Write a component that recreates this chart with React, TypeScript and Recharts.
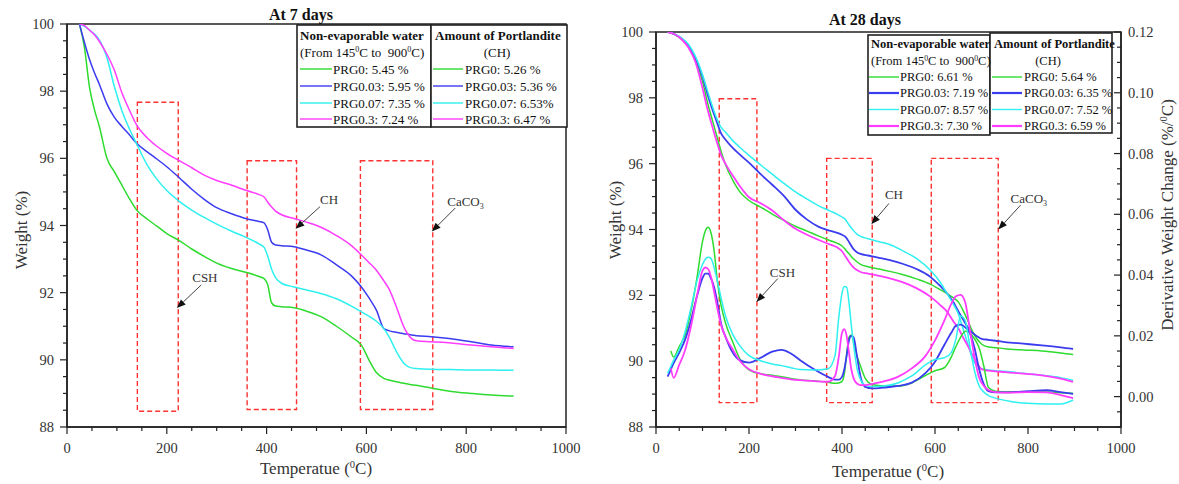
import React from 'react';
import { LineChart, Line, XAxis, YAxis, ReferenceArea, ReferenceLine } from 'recharts';

const FONT = '"Liberation Serif", "Times New Roman", serif';
const AXIS = '#222';
const TXT = '#333';
const GREEN = '#2edb2e';
const BLUE = '#3b3bf0';
const CYAN = '#2ef0f0';
const MAGENTA = '#ff3cff';
const BOX_RED = '#ff3030';

// ---- 7 days, TGA weight (%) ----
const temp7 = [25, 35, 45, 55, 65, 80, 95, 110, 125, 140, 160, 180, 200, 225, 250, 275, 300, 330, 360, 385, 395, 402, 410, 418, 430, 455, 480, 510, 540, 570, 590, 605, 620, 635, 645, 660, 675, 690, 700, 730, 770, 810, 850, 895];
const wt7Prg0 = [100, 99.3, 98.13, 97.45, 96.94, 96.0, 95.6, 95.2, 94.8, 94.45, 94.2, 93.98, 93.76, 93.55, 93.3, 93.08, 92.88, 92.72, 92.6, 92.48, 92.42, 92.25, 91.7, 91.6, 91.58, 91.55, 91.45, 91.28, 91.0, 90.68, 90.44, 90.0, 89.62, 89.45, 89.4, 89.35, 89.3, 89.26, 89.24, 89.16, 89.06, 89.0, 88.95, 88.92];
const wt7Prg003 = [100, 99.45, 98.95, 98.55, 98.2, 97.62, 97.22, 96.95, 96.7, 96.44, 96.2, 95.98, 95.75, 95.42, 95.08, 94.78, 94.53, 94.35, 94.2, 94.12, 94.08, 93.88, 93.5, 93.42, 93.4, 93.37, 93.27, 93.12, 92.83, 92.5, 92.17, 91.85, 91.48, 90.93, 90.87, 90.82, 90.78, 90.74, 90.72, 90.69, 90.63, 90.54, 90.44, 90.39];
const wt7Prg007 = [100, 99.93, 99.82, 99.7, 99.52, 99.0, 98.13, 97.42, 96.88, 96.42, 95.82, 95.38, 95.04, 94.72, 94.46, 94.24, 94.04, 93.83, 93.64, 93.45, 93.35, 93.1, 92.7, 92.45, 92.28, 92.17, 92.08, 91.97, 91.82, 91.6, 91.43, 91.3, 91.15, 90.93, 90.7, 90.25, 89.9, 89.76, 89.74, 89.72, 89.71, 89.7, 89.7, 89.69];
const wt7Prg03 = [100, 99.95, 99.82, 99.68, 99.48, 99.1, 98.62, 97.95, 97.44, 96.98, 96.62, 96.36, 96.15, 95.93, 95.72, 95.5, 95.34, 95.2, 95.04, 94.92, 94.85, 94.7, 94.55, 94.43, 94.32, 94.21, 94.1, 93.94, 93.7, 93.4, 93.12, 92.9, 92.67, 92.35, 92.12, 91.58, 90.98, 90.64, 90.57, 90.54, 90.5, 90.44, 90.39, 90.34];

// ---- 28 days, TGA weight (%) ----
const temp28 = [25, 40, 55, 70, 85, 100, 110, 120, 130, 140, 150, 165, 180, 200, 225, 250, 275, 300, 325, 350, 375, 390, 400, 408, 416, 424, 432, 440, 456, 480, 505, 530, 560, 590, 610, 625, 640, 650, 660, 670, 680, 690, 700, 715, 730, 750, 790, 830, 870, 897];
const wt28Prg0 = [100, 99.92, 99.78, 99.55, 99.15, 98.5, 97.9, 97.38, 96.88, 96.37, 95.95, 95.5, 95.15, 94.88, 94.68, 94.47, 94.28, 94.1, 93.95, 93.8, 93.66, 93.58, 93.5, 93.38, 93.25, 93.12, 93.02, 92.94, 92.87, 92.8, 92.72, 92.63, 92.5, 92.34, 92.18, 92.06, 91.92, 91.8, 91.55, 91.25, 90.92, 90.68, 90.52, 90.43, 90.41, 90.38, 90.34, 90.31, 90.25, 90.2];
const wt28Prg003 = [100, 99.93, 99.8, 99.58, 99.2, 98.65, 98.15, 97.7, 97.3, 96.92, 96.72, 96.48, 96.28, 96.03, 95.68, 95.36, 95.02, 94.6, 94.3, 94.08, 93.96, 93.9, 93.84, 93.77, 93.6, 93.42, 93.31, 93.26, 93.21, 93.14, 93.06, 92.96, 92.8, 92.56, 92.3, 92.08, 91.78, 91.52, 91.28, 91.04, 90.87, 90.76, 90.68, 90.65, 90.62, 90.58, 90.53, 90.48, 90.42, 90.37];
const wt28Prg007 = [100, 99.94, 99.82, 99.62, 99.25, 98.7, 98.25, 97.8, 97.4, 97.1, 96.95, 96.7, 96.5, 96.25, 95.96, 95.68, 95.4, 95.14, 94.92, 94.72, 94.56, 94.46, 94.38, 94.29, 94.12, 93.98, 93.86, 93.79, 93.72, 93.63, 93.53, 93.36, 93.12, 92.76, 92.42, 92.08, 91.72, 91.44, 91.0, 90.55, 90.1, 89.85, 89.77, 89.73, 89.71, 89.69, 89.63, 89.57, 89.5, 89.42];
const wt28Prg03 = [100, 99.93, 99.78, 99.52, 99.08, 98.3, 97.7, 97.18, 96.7, 96.26, 95.98, 95.64, 95.32, 94.98, 94.8, 94.58, 94.28, 94.02, 93.84, 93.68, 93.54, 93.45, 93.34, 93.17, 93.0, 92.86, 92.77, 92.71, 92.66, 92.59, 92.51, 92.4, 92.22, 91.96, 91.72, 91.52, 91.2, 91.0, 90.73, 90.48, 90.2, 89.95, 89.76, 89.71, 89.69, 89.67, 89.62, 89.57, 89.47, 89.37];

// ---- 28 days, derivative weight change (%/°C) ----
const tempDtg = [25, 32, 38, 50, 62, 75, 88, 100, 106, 112, 118, 125, 132, 140, 150, 165, 180, 200, 225, 250, 270, 290, 310, 340, 370, 385, 393, 400, 405, 410, 415, 420, 425, 432, 440, 450, 465, 490, 520, 550, 580, 600, 620, 635, 645, 655, 665, 675, 685, 695, 705, 715, 730, 760, 800, 840, 870, 897];
const dtgPrg0 = [null, 0.015, 0.013, 0.0165, 0.02, 0.028, 0.039, 0.051, 0.0545, 0.0557, 0.054, 0.048, 0.038, 0.03, 0.024, 0.018, 0.0125, 0.0088, 0.0075, 0.007, 0.0065, 0.006, 0.0055, 0.0052, 0.0047, 0.0044, 0.0045, 0.005, 0.0075, 0.014, 0.0195, 0.0203, 0.018, 0.0135, 0.01, 0.006, 0.004, 0.0035, 0.0035, 0.0045, 0.007, 0.0085, 0.0095, 0.013, 0.0165, 0.0195, 0.0215, 0.021, 0.019, 0.016, 0.01, 0.003, 0.0018, 0.0016, 0.0016, 0.0015, 0.0013, 0.0011];
const dtgPrg003 = [0.0066, 0.009, 0.011, 0.0145, 0.0185, 0.025, 0.033, 0.039, 0.0405, 0.0405, 0.039, 0.036, 0.031, 0.024, 0.0195, 0.0145, 0.012, 0.0112, 0.0128, 0.0148, 0.0154, 0.0142, 0.012, 0.009, 0.0065, 0.0056, 0.0056, 0.0065, 0.009, 0.0135, 0.0185, 0.02, 0.0195, 0.0135, 0.0065, 0.0032, 0.0027, 0.003, 0.0035, 0.0046, 0.0078, 0.0115, 0.017, 0.021, 0.0233, 0.0237, 0.0228, 0.0209, 0.016, 0.009, 0.004, 0.0018, 0.0014, 0.0014, 0.0018, 0.0021, 0.0015, 0.0009];
const dtgPrg007 = [0.0077, 0.01, 0.012, 0.0155, 0.021, 0.029, 0.038, 0.0435, 0.0452, 0.0459, 0.0455, 0.0425, 0.038, 0.0325, 0.0263, 0.0205, 0.0168, 0.0135, 0.0118, 0.0107, 0.0102, 0.0095, 0.0089, 0.0088, 0.0092, 0.0135, 0.026, 0.034, 0.0362, 0.036, 0.031, 0.0235, 0.017, 0.0095, 0.0055, 0.0037, 0.0033, 0.0035, 0.0045, 0.0068, 0.0105, 0.0122, 0.0128, 0.0145, 0.019, 0.0265, 0.025, 0.0165, 0.0085, 0.0035, 0.0015, 0.0003, -0.0005, -0.0015, -0.0022, -0.0024, -0.0024, -0.0011];
const dtgPrg03 = [null, 0.0093, 0.0062, 0.0105, 0.015, 0.023, 0.033, 0.0415, 0.0425, 0.042, 0.0395, 0.0345, 0.029, 0.0235, 0.0195, 0.0155, 0.0118, 0.009, 0.0075, 0.0067, 0.0062, 0.0057, 0.0054, 0.0051, 0.0049, 0.0068, 0.013, 0.021, 0.0222, 0.02, 0.0145, 0.009, 0.006, 0.0043, 0.0038, 0.0038, 0.0042, 0.005, 0.0065, 0.0093, 0.0135, 0.0185, 0.025, 0.0305, 0.033, 0.0335, 0.031, 0.022, 0.013, 0.0062, 0.0035, 0.0022, 0.0015, 0.0013, 0.0015, 0.0014, 0.0005, -0.0005];

// ---- legend texts ----
const mixes = ['PRG0', 'PRG0.03', 'PRG0.07', 'PRG0.3'];
const mixColors = [GREEN, BLUE, CYAN, MAGENTA];
const water7 = ['5.45 %', '5.95 %', '7.35 %', '7.24 %'];
const ch7 = ['5.26 %', '5.36 %', '6.53%', '6.47 %'];
const water28 = ['6.61 %', '7.19 %', '8.57 %', '7.30 %'];
const ch28 = ['5.64 %', '6.35 %', '7.52 %', '6.59 %'];

// ---- dashed boxes (temperature range, weight range) ----
const boxes7 = [
  [141, 223, 88.47, 97.67],
  [361, 460, 88.52, 95.93],
  [588, 733, 88.52, 95.93],
];
const boxes28 = [
  [136, 217, 88.74, 97.97],
  [367, 465, 88.74, 96.16],
  [592, 736, 88.74, 96.16],
];

// ticks
const xTicks = Array.from({ length: 21 }, (_, i) => i * 50);
const wTicks = Array.from({ length: 25 }, (_, i) => 88 + i * 0.5);
const dTicks = Array.from({ length: 27 }, (_, i) => (i - 2) * 0.005);

const rows7 = temp7.map((t, i) => ({ t, a: wt7Prg0[i], b: wt7Prg003[i], c: wt7Prg007[i], d: wt7Prg03[i] }));
const rows28 = temp28.map((t, i) => ({ t, a: wt28Prg0[i], b: wt28Prg003[i], c: wt28Prg007[i], d: wt28Prg03[i] }));
const rowsDtg = tempDtg.map((t, i) => ({ t, a: dtgPrg0[i], b: dtgPrg003[i], c: dtgPrg007[i], d: dtgPrg03[i] }));

function XTick(p: any) {
  const { x, y, payload } = p;
  const v = payload.value;
  const major = v % 200 === 0;
  return (
    <g>
      <line x1={x} x2={x} y1={y} y2={y + (major ? 7 : 4)} stroke={AXIS} strokeWidth={1.2} />
      {major && (
        <text x={x} y={y + 26} textAnchor="middle" fontSize={14.5} fill={TXT} fontFamily={FONT}>
          {v}
        </text>
      )}
    </g>
  );
}

function WTick(p: any) {
  const { x, y, payload } = p;
  const v = payload.value;
  const major = Math.abs(v % 2) < 1e-6;
  return (
    <g>
      <line x1={x} x2={x - (major ? 7 : 4)} y1={y} y2={y} stroke={AXIS} strokeWidth={1.2} />
      {major && (
        <text x={x - 13} y={y} dy="0.35em" textAnchor="end" fontSize={14.5} fill={TXT} fontFamily={FONT}>
          {v}
        </text>
      )}
    </g>
  );
}

function DTick(p: any) {
  const { x, y, payload } = p;
  const k = Math.round(payload.value / 0.005);
  const major = k % 4 === 0;
  return (
    <g>
      <line x1={x} x2={x - (major ? 7 : 4)} y1={y} y2={y} stroke={AXIS} strokeWidth={1.2} />
      {major && (
        <text x={x + 7} y={y} dy="0.35em" textAnchor="start" fontSize={14.5} fill={TXT} fontFamily={FONT}>
          {(k * 0.005).toFixed(2)}
        </text>
      )}
    </g>
  );
}

// arrow pointing from the label towards the region
function arrow(label: React.ReactNode, dx: number, dy: number) {
  return (p: any) => {
    const { x1, y1, x2, y2 } = p;
    const ang = Math.atan2(y2 - y1, x2 - x1);
    const L = 9;
    const W = 3.5;
    const bx = x2 - L * Math.cos(ang);
    const by = y2 - L * Math.sin(ang);
    const pts = `${x2},${y2} ${bx + W * Math.sin(ang)},${by - W * Math.cos(ang)} ${bx - W * Math.sin(ang)},${by + W * Math.cos(ang)}`;
    return (
      <g>
        <line x1={x1} y1={y1} x2={bx} y2={by} stroke="#444" strokeWidth={1} />
        <polygon points={pts} fill="#111" />
        <text x={x1 + dx} y={y1 + dy} fontSize={13} fill={TXT} fontFamily={FONT}>
          {label}
        </text>
      </g>
    );
  };
}

const caco3 = (
  <>
    CaCO<tspan fontSize={8} dy={3}>3</tspan>
  </>
);

function lines(yId: string, rows: any[] | null, widths: number[]) {
  const keys = ['a', 'b', 'c', 'd'];
  return keys.map((k, i) => (
    <Line
      key={k + yId}
      yAxisId={yId}
      data={rows ?? undefined}
      dataKey={k}
      type="monotone"
      stroke={mixColors[i]}
      strokeWidth={widths[i]}
      dot={false}
      activeDot={false}
      isAnimationActive={false}
    />
  ));
}

function Panel({ left, width, top, data, dtg, boxes, arrows }: any) {
  return (
    <div style={{ position: 'absolute', left, top: 0 }}>
      <LineChart width={width} height={484} margin={{ top, right: dtg ? 0 : 24, bottom: 0, left: 0 }}>
        <XAxis
          type="number"
          dataKey="t"
          domain={[0, 1000]}
          ticks={xTicks}
          interval={0}
          tick={XTick}
          tickLine={false}
          tickSize={0}
          tickMargin={0}
          height={57}
          allowDataOverflow
          axisLine={{ stroke: AXIS, strokeWidth: 1.5 }}
        />
        <YAxis
          yAxisId="w"
          type="number"
          domain={[88, 100]}
          ticks={wTicks}
          interval={0}
          tick={WTick}
          tickLine={false}
          tickSize={0}
          tickMargin={0}
          width={dtg ? 66 : 67}
          allowDataOverflow
          axisLine={{ stroke: AXIS, strokeWidth: 1.5 }}
        />
        {dtg && (
          <YAxis
            yAxisId="d"
            orientation="right"
            type="number"
            domain={[-0.01, 0.12]}
            ticks={dTicks}
            interval={0}
            tick={DTick}
            tickLine={false}
            tickSize={0}
            tickMargin={0}
            width={58}
            allowDataOverflow
            axisLine={{ stroke: AXIS, strokeWidth: 1.5 }}
          />
        )}
        <ReferenceArea yAxisId="w" x1={0} x2={1000} y1={88} y2={100} fill="none" stroke={AXIS} strokeWidth={1.5} />
        {boxes.map((b: number[], i: number) => (
          <ReferenceArea
            key={i}
            yAxisId="w"
            x1={b[0]}
            x2={b[1]}
            y1={b[2]}
            y2={b[3]}
            fill="none"
            stroke={BOX_RED}
            strokeWidth={1.4}
            strokeDasharray="5 3"
          />
        ))}
        {lines('w', data, dtg ? [1.5, 1.8, 1.5, 1.8] : [1.5, 1.5, 1.5, 1.5])}
        {dtg && lines('d', rowsDtg, [1.5, 1.8, 1.5, 1.8])}
        {arrows.map((a: any, i: number) => (
          <ReferenceLine
            key={'ar' + i}
            yAxisId="w"
            segment={[{ x: a.from[0], y: a.from[1] }, { x: a.to[0], y: a.to[1] }]}
            shape={arrow(a.label, a.dx, a.dy)}
          />
        ))}
      </LineChart>
    </div>
  );
}

const arrows7 = [
  { from: [269, 92.23], to: [220, 91.54], label: 'CSH', dx: -9, dy: -3 },
  { from: [507, 94.56], to: [458, 93.9], label: 'CH', dx: 0, dy: -3 },
  { from: [778, 94.52], to: [731, 93.82], label: caco3, dx: -8, dy: -2 },
];
const arrows28 = [
  { from: [262, 92.51], to: [216, 91.8], label: 'CSH', dx: -8, dy: -2 },
  { from: [501, 94.79], to: [463, 94.16], label: 'CH', dx: -4, dy: -4 },
  { from: [784, 94.74], to: [736, 94.0], label: caco3, dx: -10, dy: -2 },
];

function Deg({ fs }: { fs: number }) {
  return (
    <tspan fontSize={fs * 0.62} dy={-fs * 0.38}>
      0
    </tspan>
  );
}

function LegendPair({ b1, b2, head, rowsY, fs, water, ch, l1, l2, thick }: any) {
  return (
    <g fontFamily={FONT} fontSize={fs} fill="#111">
      <rect x={b1[0]} y={b1[1]} width={b1[2]} height={b1[3]} fill="#fff" stroke="#222" strokeWidth={1.6} />
      <rect x={b2[0]} y={b2[1]} width={b2[2]} height={b2[3]} fill="#fff" stroke="#222" strokeWidth={1.6} />
      <text x={b1[0] + 3} y={head[0]} dy="0.35em" fontWeight="bold">
        Non-evaporable water
      </text>
      <text x={b1[0] + 3} y={head[1]} dy="0.35em" style={{ whiteSpace: 'pre' }}>
        (From 145<Deg fs={fs} />
        <tspan dy={fs * 0.38}>{'C to  900'}</tspan>
        <Deg fs={fs} />
        <tspan dy={fs * 0.38}>C)</tspan>
      </text>
      <text x={b2[0] + 4} y={head[0]} dy="0.35em" fontWeight="bold">
        Amount of Portlandite
      </text>
      <text x={l2.ch} y={head[1]} dy="0.35em" textAnchor="middle">
        (CH)
      </text>
      {mixes.map((m, i) => (
        <g key={m}>
          <line x1={l1[0]} x2={l1[1]} y1={rowsY[i]} y2={rowsY[i]} stroke={mixColors[i]} strokeWidth={thick && i % 2 ? 2.2 : 1.4} />
          <text x={l1[1] + 1} y={rowsY[i]} dy="0.35em">
            {m}: {water[i]}
          </text>
          <line x1={l2.line[0]} x2={l2.line[1]} y1={rowsY[i]} y2={rowsY[i]} stroke={mixColors[i]} strokeWidth={thick && i % 2 ? 2.2 : 1.4} />
          <text x={l2.line[1] + 2} y={rowsY[i]} dy="0.35em">
            {m}: {ch[i]}
          </text>
        </g>
      ))}
    </g>
  );
}

export default function App() {
  const afs = 17;
  return (
    <div style={{ position: 'relative', width: 1179, height: 484, background: '#fff', overflow: 'hidden' }}>
      <style>{'body{margin:0}'}</style>
      <Panel left={0} width={590} top={24} data={rows7} dtg={false} boxes={boxes7} arrows={arrows7} />
      <Panel left={590} width={589} top={32} data={rows28} dtg={true} boxes={boxes28} arrows={arrows28} />
      <svg width={1179} height={484} style={{ position: 'absolute', left: 0, top: 0, pointerEvents: 'none' }}>
        <g fontFamily={FONT} fill="#111">
          <text x={301} y={20} textAnchor="middle" fontSize={16} fontWeight="bold">
            At 7 days
          </text>
          <text x={865} y={25} textAnchor="middle" fontSize={16} fontWeight="bold">
            At 28 days
          </text>
          <text x={316} y={474} textAnchor="middle" fontSize={afs} fill={TXT}>
            Temperatue (<Deg fs={afs} />
            <tspan dy={afs * 0.38}>C)</tspan>
          </text>
          <text x={888} y={477} textAnchor="middle" fontSize={afs} fill={TXT}>
            Temperatue (<Deg fs={afs} />
            <tspan dy={afs * 0.38}>C)</tspan>
          </text>
          <text transform="translate(27,230) rotate(-90)" textAnchor="middle" fontSize={afs} fill={TXT}>
            Weight (%)
          </text>
          <text transform="translate(621,220) rotate(-90)" textAnchor="middle" fontSize={afs} fill={TXT}>
            Weight (%)
          </text>
          <text transform="translate(1173,215) rotate(-90)" textAnchor="middle" fontSize={afs} fill={TXT}>
            Derivative Weight Change (%/<Deg fs={afs} />
            <tspan dy={afs * 0.38}>C)</tspan>
          </text>
        </g>
        <LegendPair
          b1={[297, 25, 134, 102]}
          b2={[431, 25, 136, 102]}
          head={[35, 52]}
          rowsY={[69, 86, 103, 119]}
          fs={13}
          water={water7}
          ch={ch7}
          l1={[300, 332]}
          l2={{ line: [433, 463], ch: 497 }}
          thick={false}
        />
        <LegendPair
          b1={[868, 35, 122, 100]}
          b2={[990, 33, 122, 100]}
          head={[44, 61]}
          rowsY={[77, 93, 109.5, 126]}
          fs={12.5}
          water={water28}
          ch={ch28}
          l1={[869, 899]}
          l2={{ line: [992, 1022], ch: 1048 }}
          thick={true}
        />
      </svg>
    </div>
  );
}
